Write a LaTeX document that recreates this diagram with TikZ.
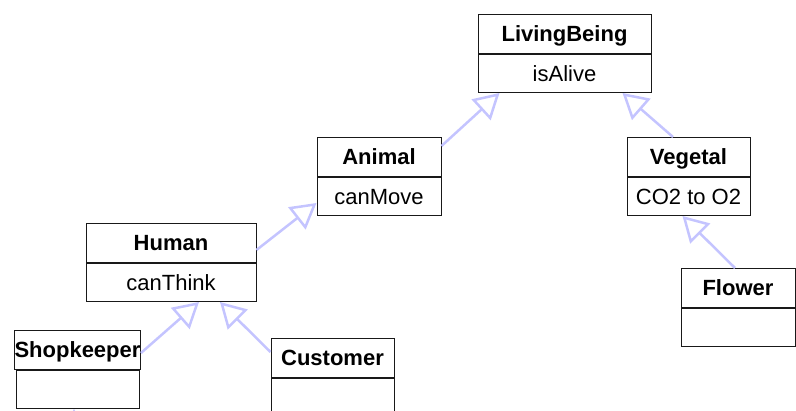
\documentclass[tikz,border=0pt]{standalone}
\usepackage{fontspec}
\setmainfont{Liberation Sans}
\usetikzlibrary{arrows.meta}
\definecolor{umledge}{RGB}{196,196,255}
\definecolor{umlline}{RGB}{25,25,25}
\tikzset{
  compartment/.style={draw=umlline, line width=1pt, fill=white, inner sep=0pt,
    text height=15.8pt, text depth=0pt, anchor=north},
  classname/.style={compartment, minimum height=39pt,
    font=\fontsize{22}{26}\selectfont\bfseries},
  classattr/.style={compartment, minimum height=38pt,
    font=\fontsize{22}{26}\selectfont},
  inherit/.style={draw=umledge, line width=2.5pt,
    -{Triangle[open, length=25pt, width=28pt]}}
}
\begin{document}
\begin{tikzpicture}[x=1pt, y=-1pt]
  \useasboundingbox (0,0) rectangle (796,411);
  \clip (0,0) rectangle (796,411);

  % classes: name compartment above, attribute compartment below
  \node[classname, minimum width=173pt] (lb) at (564.5,14) {LivingBeing};
  \node[classattr, minimum width=173pt] (lbA) at (lb.south) {isAlive};

  \node[classname, minimum width=124pt] (an) at (379,137) {Animal};
  \node[classattr, minimum width=124pt] (anA) at (an.south) {canMove};

  \node[classname, minimum width=123pt] (veg) at (688.5,137) {Vegetal};
  \node[classattr, minimum width=123pt] (vegA) at (veg.south) {CO2 to O2};

  \node[classname, minimum width=170pt] (hu) at (171,223) {Human};
  \node[classattr, minimum width=170pt] (huA) at (hu.south) {canThink};

  \node[classname, minimum width=114pt] (fl) at (738,268) {Flower};
  \node[classattr, minimum width=114pt] (flA) at (fl.south) {};

  \node[classname, minimum width=123pt] (sk) at (77.5,330) {Shopkeeper};
  \node[classattr, minimum width=123pt] (skA) at (sk.south) {};

  \node[classname, minimum width=123pt] (cu) at (332.5,338) {Customer};
  \node[classattr, minimum width=123pt] (cuA) at (cu.south) {};

  \coordinate (sub) at (74,470);

  % generalisations
  \draw[inherit] ([yshift=-9pt]an.north east) -- ([xshift=22pt]lbA.south west);
  \draw[inherit] ([xshift=-15.5pt]veg.north) -- ([xshift=-29pt]lbA.south east);
  \draw[inherit] ([yshift=-27pt]hu.north east) -- ([yshift=13pt]anA.south west);
  \draw[inherit] ([xshift=-3pt]fl.north) -- ([xshift=56pt]vegA.south west);
  \draw[inherit] ([yshift=-23pt]sk.north east) -- ([xshift=28pt]huA.south);
  \draw[inherit] ([yshift=-14pt]cu.north west) -- ([xshift=49pt]huA.south);
  \draw[inherit] (sub) -- ([xshift=-3.5pt]skA.south);
\end{tikzpicture}
\end{document}
